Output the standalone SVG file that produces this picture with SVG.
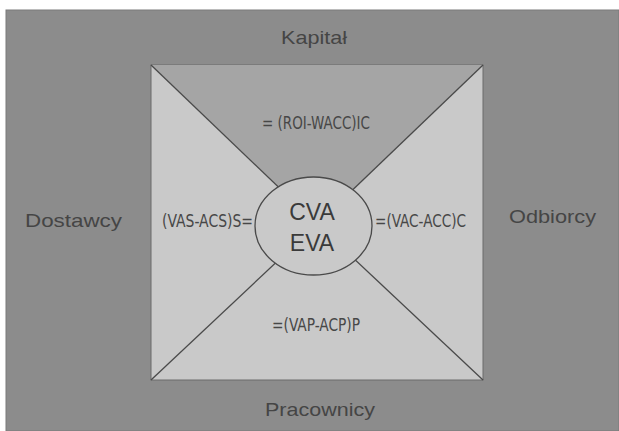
<svg xmlns="http://www.w3.org/2000/svg" width="619" height="431" viewBox="0 0 619 431">
<style>
.lbl{font-family:"Liberation Sans",Arial,sans-serif;fill:#454545;font-size:19px}
.fx{font-family:"Liberation Sans Narrow","DejaVu Sans Condensed","Liberation Sans",sans-serif;fill:#474747;font-size:18px}
.core{font-family:"Liberation Sans",Arial,sans-serif;fill:#3a3a3a;font-size:23px}
.ln{stroke:#4a4a4a;stroke-width:1.3;fill:none}
</style>
<rect width="619" height="431" fill="#ffffff"/>
<rect id="background" x="6" y="10" width="613" height="421" fill="#8c8c8c" stroke="#7a7a7a" stroke-width="1"/>
<g id="square">
<rect x="151" y="65" width="332" height="315" fill="#c9c9c9" stroke="#6a6a6a" stroke-width="1"/>
<polygon points="151,65 483,65 317,224" fill="#a5a5a5"/>
</g>
<g id="connectors">
<line class="ln" x1="151" y1="65" x2="317" y2="224"/>
<line class="ln" x1="483" y1="65" x2="317" y2="224"/>
<line class="ln" x1="151" y1="380" x2="317" y2="224"/>
<line class="ln" x1="483" y1="380" x2="317" y2="224"/>
</g>
<g id="center">
<ellipse cx="313.5" cy="226" rx="58.5" ry="49" fill="#c9c9c9" stroke="#4a4a4a" stroke-width="1.3"/>
<text class="core" x="312" y="220" text-anchor="middle">CVA</text>
<text class="core" x="312" y="251" text-anchor="middle">EVA</text>
</g>
<g id="kapital"><text class="lbl" x="281" y="44" textLength="66" lengthAdjust="spacingAndGlyphs">Kapitał</text></g>
<g id="dostawcy"><text class="lbl" x="25" y="227" textLength="97" lengthAdjust="spacingAndGlyphs">Dostawcy</text></g>
<g id="odbiorcy"><text class="lbl" x="509" y="223" textLength="87" lengthAdjust="spacingAndGlyphs">Odbiorcy</text></g>
<g id="pracownicy"><text class="lbl" x="265" y="416" textLength="110" lengthAdjust="spacingAndGlyphs">Pracownicy</text></g>
<g id="formula-top"><text class="fx" x="262" y="129" textLength="108" lengthAdjust="spacingAndGlyphs">= (ROI-WACC)IC</text></g>
<g id="formula-left"><text class="fx" x="162" y="227" textLength="91" lengthAdjust="spacingAndGlyphs">(VAS-ACS)S=</text></g>
<g id="formula-right"><text class="fx" x="375" y="227" textLength="91" lengthAdjust="spacingAndGlyphs">=(VAC-ACC)C</text></g>
<g id="formula-bottom"><text class="fx" x="272" y="331" textLength="88" lengthAdjust="spacingAndGlyphs">=(VAP-ACP)P</text></g>
</svg>
